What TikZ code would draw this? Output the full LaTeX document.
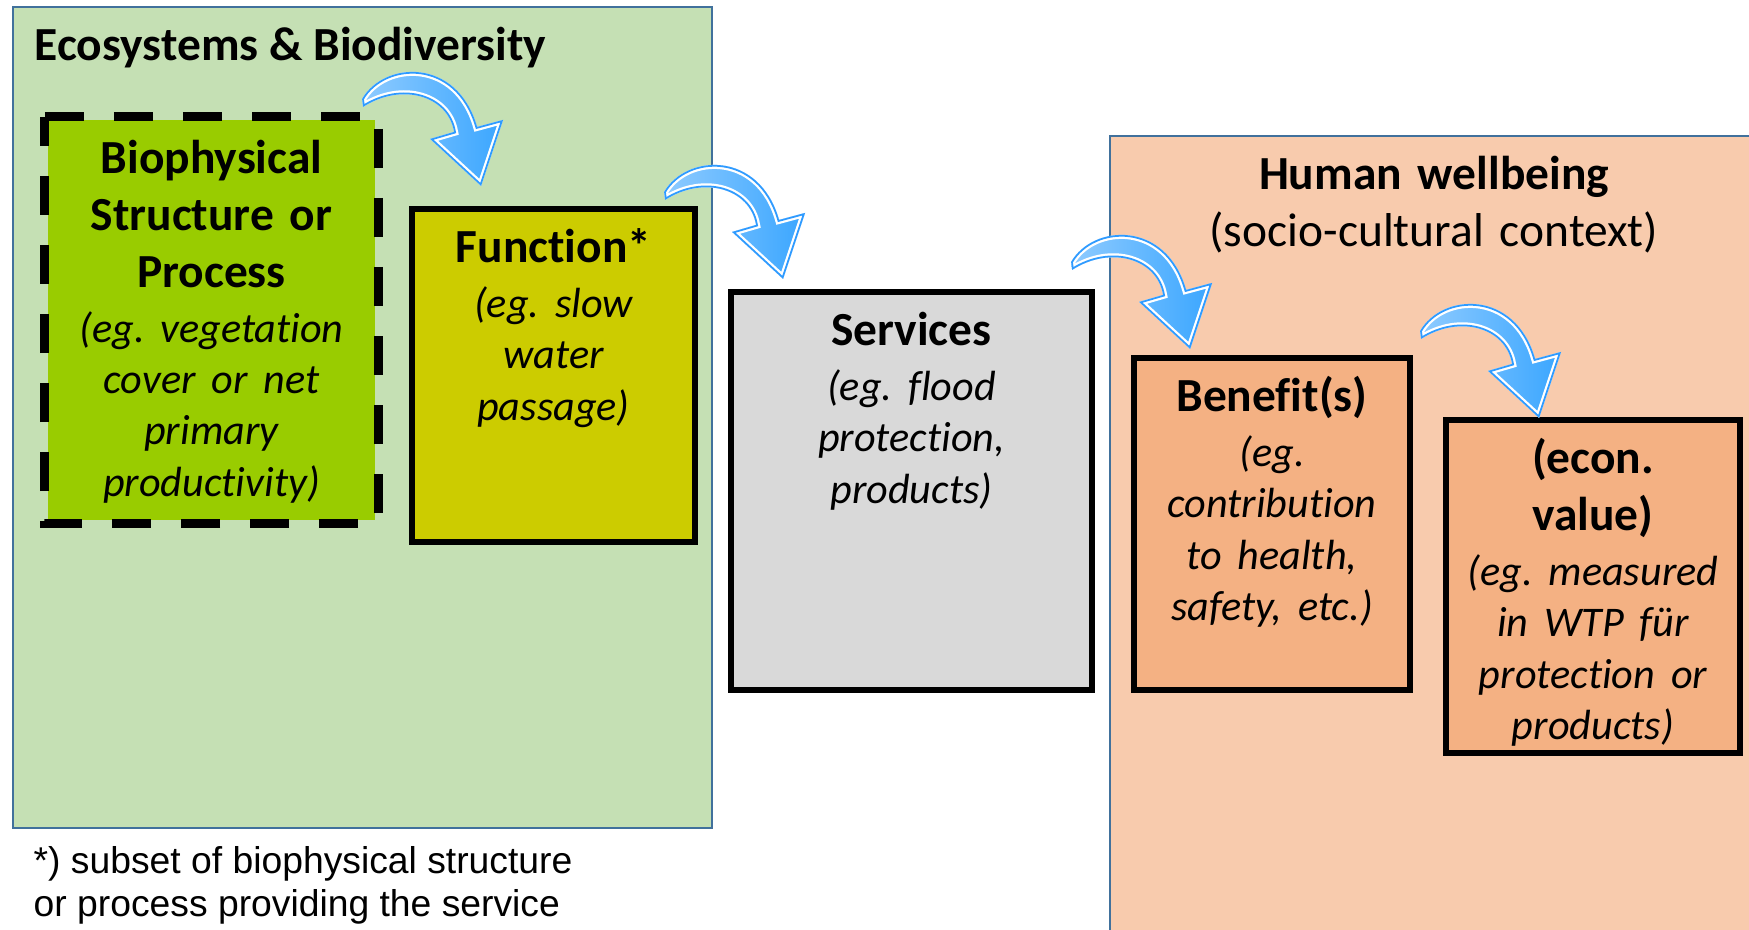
\documentclass[tikz,border=0pt]{standalone}
\usepackage{fontspec}
\setmainfont{Carlito}[Ligatures=NoCommon]
\newfontfamily\notefont{Liberation Sans}
\usetikzlibrary{positioning,calc}
\definecolor{ecogreen}{HTML}{C5E0B4}
\definecolor{humanrose}{HTML}{F8CBAD}
\definecolor{regionedge}{HTML}{41719C}
\definecolor{biogreen}{HTML}{99CC00}
\definecolor{funcolive}{HTML}{CCCC00}
\definecolor{servgrey}{HTML}{D9D9D9}
\definecolor{benorange}{HTML}{F4B183}
\definecolor{arrowblue}{HTML}{3AA6FF}
\definecolor{arrowlight}{HTML}{8FCBFF}
\definecolor{arrowedge}{HTML}{2F9BFF}
\def\arrowshape{(0,-3) .. controls (22,-41) and (95,-45) .. (115,25) -- (141,18) -- (119,84) -- (68,37) -- (92,30) .. controls (86,-6) and (40,-20) .. (1,5) -- cycle}
\newcommand\bluearrow[1]{%
\begin{scope}[shift={(#1)}]
\path[left color=arrowlight,right color=arrowblue] \arrowshape;
\begin{scope}
\clip \arrowshape;
\draw[white,line width=0.08cm] \arrowshape;
\draw[arrowedge,line width=0.035cm] \arrowshape;
\end{scope}
\end{scope}}
\newcommand\eg[1]{\par\vskip1pt{\itshape\fontsize{12}{14.6}\selectfont#1\par}}
\frenchspacing
\begin{document}
\begin{tikzpicture}[x=0.01cm,y=-0.01cm,
region/.style={draw=regionedge,line width=0.02cm,inner sep=0},
box/.style={draw,line width=0.06cm,inner sep=0},
boxtext/.style={text width=3.4cm,align=center,inner sep=0,font=\fontsize{13.5}{16.2}\selectfont}]
\path[use as bounding box,fill=white](0,0) rectangle (1749,929);
\clip(0,0) rectangle (1749,929);
\node[region,fill=ecogreen,minimum width=6.99cm,minimum height=8.21cm] (eco) at (362.5,417.5) {};
\node[region,fill=humanrose,minimum width=6.48cm,minimum height=8.04cm] (human) at (1434,538) {};
\node[anchor=base west,inner sep=0,font=\bfseries\fontsize{13.5}{16.2}\selectfont] (ecotitle) at (34,60) {Ecosystems \& Biodiversity};
\node[box,fill=biogreen,draw=none,minimum width=3.27cm,minimum height=4cm] (bio) at (211.5,320) {};
\draw[line width=0.09cm,dash pattern=on 0.39cm off 0.3cm](bio.north west)--(bio.north east)--(bio.south east)--(bio.south west)--cycle;
\node[box,fill=funcolive,minimum width=2.83cm,minimum height=3.33cm] (func) at (553.5,375.5) {};
\node[box,fill=servgrey,minimum width=3.61cm,minimum height=3.98cm] (serv) at (911.5,491) {};
\node[box,fill=benorange,minimum width=2.76cm,minimum height=3.32cm] (ben) at (1272,524) {};
\node[box,fill=benorange,minimum width=2.94cm,minimum height=3.33cm] (econ) at (1593,586.5) {};
\node[boxtext,below=0.16cm of bio.north] (biotext) {\strut\textbf{Biophysical}\\\textbf{Structure or}\\\textbf{Process}\eg{(eg. vegetation\\cover or net\\primary\\productivity)}};
\node[boxtext,below=0.16cm of func.north] (functext) {\strut\textbf{Function*}\eg{(eg. slow\\water\\passage)}};
\node[boxtext,below=0.16cm of serv.north] (servtext) {\strut\textbf{Services}\eg{(eg. flood\\protection,\\products)}};
\node[boxtext,text width=5cm,below=0.14cm of human.north] (humantext) {\strut\textbf{Human wellbeing}\\(socio-cultural context)};
\node[boxtext,below=0.16cm of ben.north] (bentext) {\strut\textbf{Benefit(s)}\eg{(eg.\\contribution\\to health,\\safety, etc.)}};
\node[boxtext,below=0.16cm of econ.north] (econtext) {\strut\textbf{(econ.}\\\textbf{value)}\eg{(eg. measured\\in WTP für\\protection or\\products)}};
\node[anchor=north west,align=left,inner sep=0,font=\notefont\fontsize{10.6}{12.4}\selectfont] (note) at (33,842) {\strut*) subset of biophysical structure\\or process providing the service};
\coordinate (a1) at ($(bio.north east)+(-16,-15)$);
\coordinate (a2) at ($(func.north east)+(-34,-11)$);
\coordinate (a3) at ($(serv.north east)+(-24,-24)$);
\coordinate (a4) at ($(ben.north east)+(7,-21)$);
\bluearrow{a1}
\bluearrow{a2}
\bluearrow{a3}
\bluearrow{a4}
\end{tikzpicture}
\end{document}
